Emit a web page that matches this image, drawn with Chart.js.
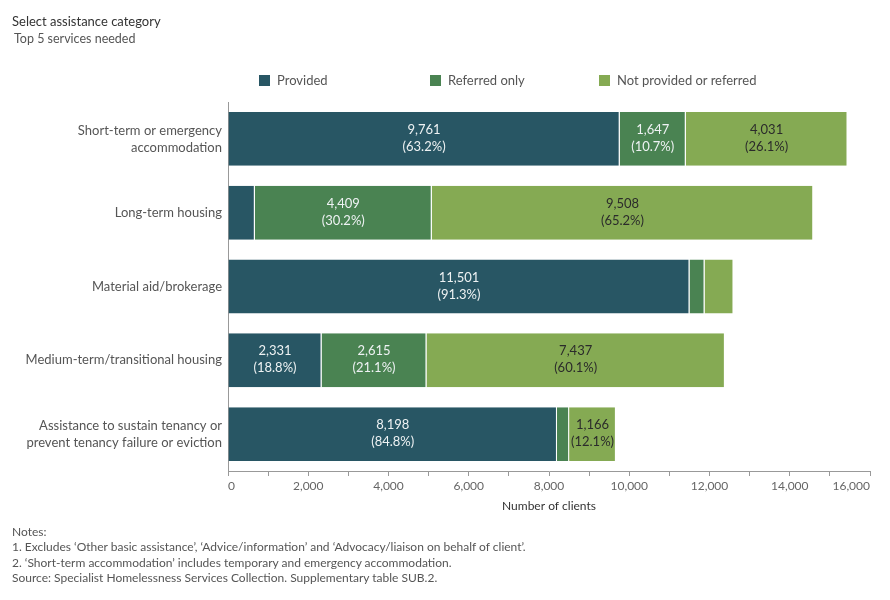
<!DOCTYPE html>
<html>
<head>
<meta charset="utf-8">
<script src="https://cdn.jsdelivr.net/npm/chart.js@4/dist/chart.umd.min.js"></script>
<style>
  body { margin: 0; width: 890px; height: 600px; position: relative; background: #fff; overflow: hidden; font-family: Lato, sans-serif; }
  #chart { position: absolute; left: 0; top: 0; }
  .t1 { position: absolute; left: 12px; top: 13px; font-size: 13px; color: #333; }
  .t2 { position: absolute; left: 14px; top: 31px; font-size: 12.5px; color: #555; }
  .leg { position: absolute; top: 72px; font-size: 13px; color: #555; white-space: nowrap; }
  .leg i { display: inline-block; width: 11px; height: 11px; vertical-align: -1px; margin-right: 7px; }
  .notes { position: absolute; left: 12px; top: 524px; font-size: 12px; color: #555; line-height: 15.3px; }
</style>
</head>
<body>
<canvas id="chart" width="890" height="600"></canvas>
<div class="t1">Select assistance category</div>
<div class="t2">Top 5 services needed</div>
<div class="leg" style="left:259px"><i style="background:#285664"></i>Provided</div>
<div class="leg" style="left:430px"><i style="background:#4a8352"></i>Referred only</div>
<div class="leg" style="left:599px"><i style="background:#85aa53"></i>Not provided or referred</div>
<div class="notes">
  Notes:<br>
  1. Excludes ‘Other basic assistance’, ‘Advice/information’ and ‘Advocacy/liaison on behalf of client’.<br>
  2. ‘Short-term accommodation’ includes temporary and emergency accommodation.<br>
  Source: Specialist Homelessness Services Collection. Supplementary table SUB.2.
</div>
<script>
// services, top to bottom
const services = [
  ["Short-term or emergency", "accommodation"],
  "Long-term housing",
  "Material aid/brokerage",
  "Medium-term/transitional housing",
  ["Assistance to sustain tenancy or", "prevent tenancy failure or eviction"]
];
// number of clients
const provided = [9761, 668, 11501, 2331, 8198];
const referredOnly = [1647, 4409, 375, 2615, 303];
const notProvided = [4031, 9508, 721, 7437, 1166];

const seriesNames = ["Provided", "Referred only", "Not provided or referred"];
const seriesColors = ["#285664", "#4a8352", "#85aa53"];
const labelColors = ["#eef2f3", "#eef2f3", "#2b2b2b"];

const totals = provided.map((v, i) => v + referredOnly[i] + notProvided[i]);

// value + percent inside each segment that is wide enough
const segmentLabels = {
  id: "segmentLabels",
  afterDatasetsDraw(chart) {
    const ctx = chart.ctx;
    ctx.save();
    ctx.font = "13px Lato";
    ctx.textAlign = "center";
    ctx.textBaseline = "middle";
    chart.data.datasets.forEach((ds, di) => {
      chart.getDatasetMeta(di).data.forEach((bar, i) => {
        const v = ds.data[i];
        if (v < 1000) return;
        const pct = (v / totals[i] * 100).toFixed(1);
        const x = (bar.x + bar.base) / 2;
        ctx.fillStyle = labelColors[di];
        ctx.fillText(v.toLocaleString("en-US"), x, bar.y - 9);
        ctx.fillText("(" + pct + "%)", x, bar.y + 8);
      });
    });
    ctx.restore();
  }
};

const data = [provided, referredOnly, notProvided];

new Chart(document.getElementById("chart").getContext("2d"), {
  type: "bar",
  data: {
    labels: services,
    datasets: data.map((d, i) => ({
      label: seriesNames[i],
      data: d,
      backgroundColor: seriesColors[i],
      borderColor: "#ffffff",
      borderWidth: { left: 0, right: 1, top: 0, bottom: 0 },
      borderSkipped: false,
      barPercentage: 0.73,
      categoryPercentage: 1
    }))
  },
  options: {
    indexAxis: "y",
    responsive: false,
    animation: false,
    layout: { padding: { top: 102, right: 20, bottom: 87, left: 0 } },
    scales: {
      x: {
        stacked: true,
        min: 0,
        max: 16000,
        afterFit(scale) { scale.height = 42; },
        grid: { drawOnChartArea: false, drawTicks: true, tickLength: 5, color: "#999" },
        border: { display: true, color: "#999" },
        ticks: {
          stepSize: 1000,
          autoSkip: false,
          maxRotation: 0,
          align: "inner",
          padding: 3,
          color: "#666",
          font: { family: "Lato", size: 12 },
          callback: (v) => (v % 2000 === 0 ? v.toLocaleString("en-US") : "")
        },
        title: {
          display: true,
          text: "Number of clients",
          color: "#333",
          font: { family: "Lato", size: 12 },
          padding: 0
        }
      },
      y: {
        stacked: true,
        afterFit(scale) { scale.width = 228; },
        grid: { display: false, drawTicks: false },
        border: { display: true, color: "#999" },
        ticks: {
          color: "#555",
          padding: 6,
          font: { family: "Lato", size: 13, lineHeight: 1.3 }
        }
      }
    },
    plugins: {
      legend: { display: false },
      tooltip: { enabled: false },
      title: { display: false }
    }
  },
  plugins: [segmentLabels]
});
</script>
</body>
</html>
